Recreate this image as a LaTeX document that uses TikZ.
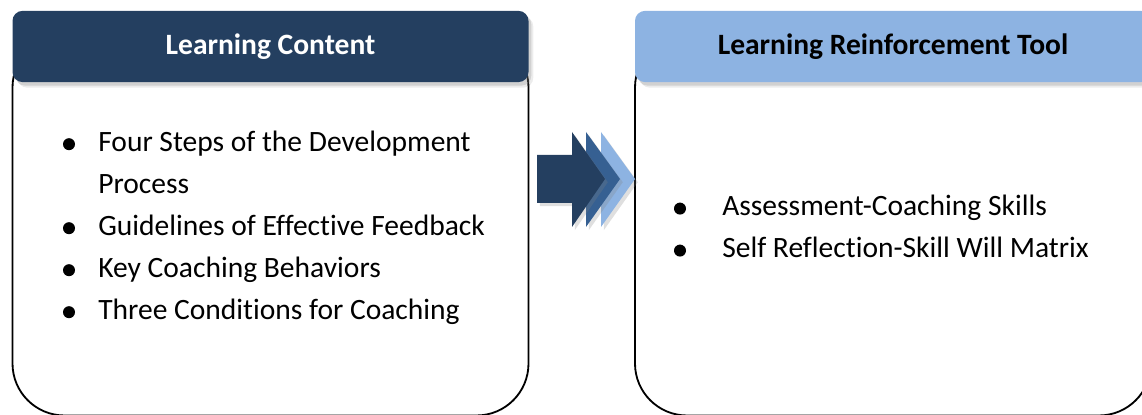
\documentclass[tikz,border=0pt]{standalone}
\usepackage{fontspec}
\setmainfont[Ligatures=CommonOff]{Carlito}
\usetikzlibrary{positioning, calc, shadows}
\definecolor{myNavy}{RGB}{36, 63, 96}
\definecolor{myBlue}{RGB}{54, 96, 146}
\definecolor{mySky}{RGB}{141, 179, 226}

\begin{document}
\begin{tikzpicture}[
    % boxes
    bodybox/.style={draw=black, line width=1.3pt, rounded corners=1.3cm, minimum width=12.9cm, minimum height=9.5cm, inner sep=0pt},
    headbox/.style={rounded corners=0.25cm, minimum width=12.9cm, minimum height=1.78cm, inner sep=0pt,
        font=\fontsize{21}{25}\selectfont\bfseries,
        drop shadow={shadow xshift=0.12cm, shadow yshift=-0.14cm, opacity=0.15},
        drop shadow={shadow xshift=0.07cm, shadow yshift=-0.09cm, opacity=0.25}},
    % list entries
    itemtext/.style={anchor=base west, inner sep=0pt, font=\fontsize{21}{25}\selectfont},
    dot/.style={circle, fill=black, minimum size=0.3cm, inner sep=0pt},
    % arrow pieces
    chevron/.style={drop shadow={shadow xshift=0.07cm, shadow yshift=-0.08cm, opacity=0.25}}
]
\useasboundingbox (0,0) rectangle (28.55,10.375);

% --- left panel ---
\node[bodybox] (contentBody) at (6.7625, 4.7375) {};
\node[headbox, fill=myNavy, text=white] (contentHead) at (6.7625, 9.2125) {Learning Content};

\foreach \name/\yy/\txt in {stepsItem/6.59/Four Steps of the Development,
    feedbackItem/4.49/Guidelines of Effective Feedback,
    behaviorItem/3.44/Key Coaching Behaviors,
    conditionItem/2.39/Three Conditions for Coaching}{
  \node[dot] (\name-dot) at (1.725, \yy+0.18) {};
  \node[itemtext] (\name) at (2.45, \yy) {\txt};
}
\node[itemtext] (stepsItemCont) at (2.45, 5.54) {Process};

% --- right panel ---
\node[bodybox] (toolBody) at (22.325, 4.7375) {};
\node[headbox, fill=mySky, text=black] (toolHead) at (22.325, 9.2125) {Learning Reinforcement Tool};

\foreach \name/\yy/\txt in {assessItem/4.98/Assessment-Coaching Skills,
    reflectItem/3.93/Self Reflection-Skill Will Matrix}{
  \node[dot] (\name-dot) at (17.0, \yy+0.18) {};
  \node[itemtext] (\name) at (18.05, \yy) {\txt};
}

% --- arrow between the panels (back to front) ---
\coordinate (arrowTip) at (15.125, 5.9);
\fill[mySky, chevron] ($(arrowTip)+(-0.1,1.175)$) -- ($(arrowTip)+(0.75,0)$) -- ($(arrowTip)+(-0.1,-1.2)$) -- cycle;
\fill[myBlue, chevron] ($(arrowTip)+(-0.475,1.175)$) -- ($(arrowTip)+(0.375,0)$) -- ($(arrowTip)+(-0.475,-1.2)$) -- cycle;
\fill[myNavy, chevron] ($(arrowTip)+(-1.7,0.6)$) -- ($(arrowTip)+(-0.825,0.6)$) -- ($(arrowTip)+(-0.825,1.175)$)
    -- (arrowTip) -- ($(arrowTip)+(-0.825,-1.2)$) -- ($(arrowTip)+(-0.825,-0.6)$) -- ($(arrowTip)+(-1.7,-0.6)$) -- cycle;

\end{tikzpicture}
\end{document}
